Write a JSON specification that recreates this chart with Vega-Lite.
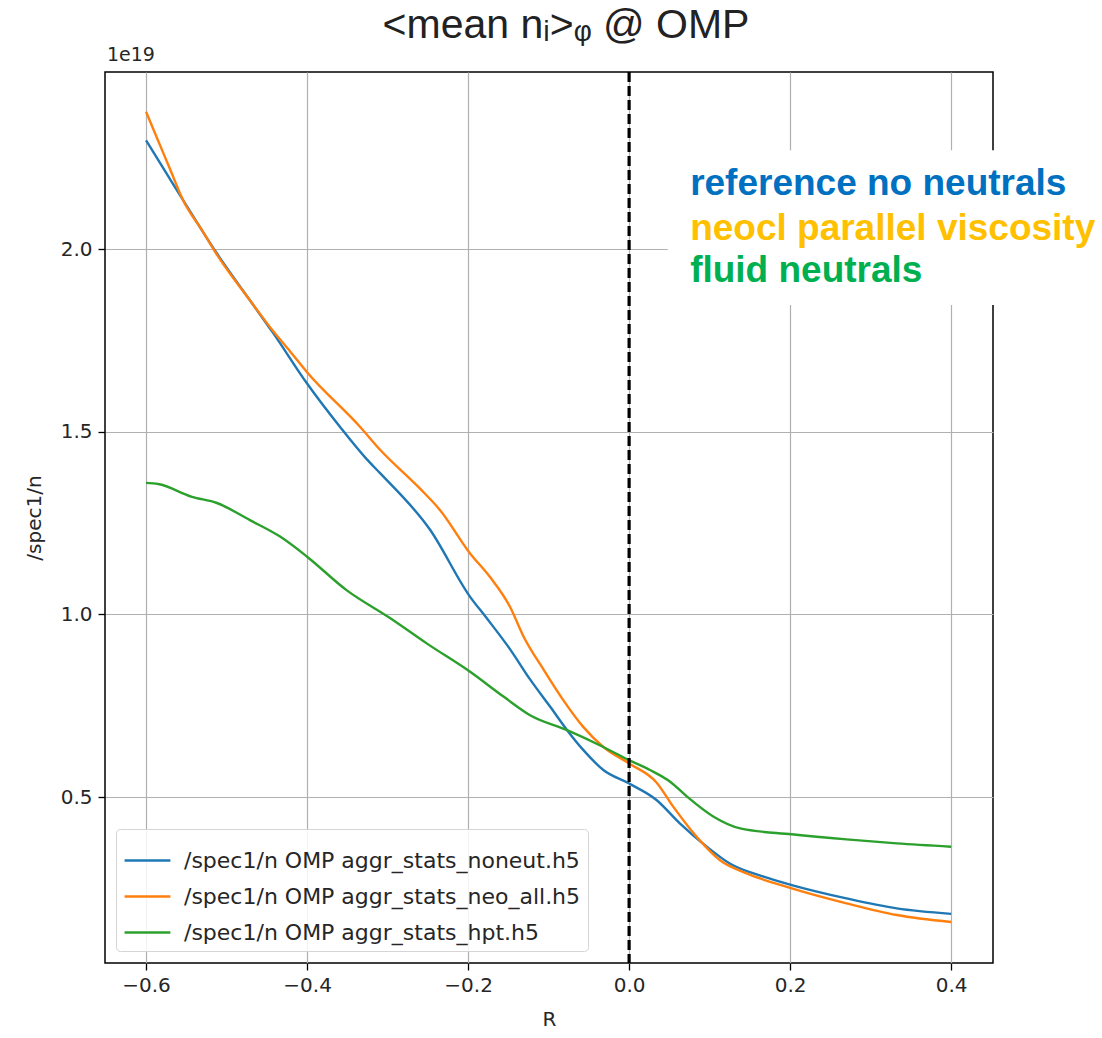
{
  "$schema": "https://vega.github.io/schema/vega-lite/v6.json",
  "width": 888,
  "height": 891,
  "autosize": {"type": "none"},
  "padding": {"left": 105, "top": 72, "right": 109, "bottom": 75},
  "background": "white",
  "title": {
    "text": "<mean nᵢ>ᵩ @ OMP",
    "font": "Liberation Sans",
    "fontSize": 41,
    "fontWeight": "normal",
    "color": "#222222",
    "anchor": "middle",
    "baseline": "alphabetic",
    "dx": 17,
    "dy": 37
  },
  "config": {
    "view": {"stroke": "black", "strokeWidth": 1.5},
    "axis": {
      "labelFont": "DejaVu Sans",
      "labelFontSize": 20,
      "labelColor": "#262626",
      "titleFont": "DejaVu Sans",
      "titleFontSize": 20,
      "titleFontWeight": "normal",
      "titleColor": "#262626",
      "gridColor": "#b0b0b0",
      "gridWidth": 1.2,
      "tickColor": "black",
      "tickSize": 7,
      "tickWidth": 1.3,
      "domain": false
    }
  },
  "datasets": {
    "curves": [
      {"series": "noneut", "R": -0.6, "n": 2.298},
      {"series": "noneut", "R": -0.575, "n": 2.209},
      {"series": "noneut", "R": -0.554, "n": 2.134},
      {"series": "noneut", "R": -0.512, "n": 1.988},
      {"series": "noneut", "R": -0.471, "n": 1.86},
      {"series": "noneut", "R": -0.442, "n": 1.77},
      {"series": "noneut", "R": -0.4, "n": 1.632},
      {"series": "noneut", "R": -0.359, "n": 1.513},
      {"series": "noneut", "R": -0.326, "n": 1.425},
      {"series": "noneut", "R": -0.309, "n": 1.386},
      {"series": "noneut", "R": -0.247, "n": 1.231},
      {"series": "noneut", "R": -0.1975, "n": 1.048},
      {"series": "noneut", "R": -0.177, "n": 0.99},
      {"series": "noneut", "R": -0.148, "n": 0.905},
      {"series": "noneut", "R": -0.123, "n": 0.822},
      {"series": "noneut", "R": -0.098, "n": 0.747},
      {"series": "noneut", "R": -0.077, "n": 0.683},
      {"series": "noneut", "R": -0.057, "n": 0.629},
      {"series": "noneut", "R": -0.032, "n": 0.574},
      {"series": "noneut", "R": 0.0, "n": 0.537},
      {"series": "noneut", "R": 0.034, "n": 0.492},
      {"series": "noneut", "R": 0.063, "n": 0.428},
      {"series": "noneut", "R": 0.0965, "n": 0.364},
      {"series": "noneut", "R": 0.125, "n": 0.318},
      {"series": "noneut", "R": 0.167, "n": 0.282},
      {"series": "noneut", "R": 0.202, "n": 0.259},
      {"series": "noneut", "R": 0.27, "n": 0.2225},
      {"series": "noneut", "R": 0.3325, "n": 0.195},
      {"series": "noneut", "R": 0.4, "n": 0.18},
      {"series": "neo_all", "R": -0.6, "n": 2.376},
      {"series": "neo_all", "R": -0.585, "n": 2.297},
      {"series": "neo_all", "R": -0.57, "n": 2.218},
      {"series": "neo_all", "R": -0.554, "n": 2.134},
      {"series": "neo_all", "R": -0.53, "n": 2.05},
      {"series": "neo_all", "R": -0.512, "n": 1.985},
      {"series": "neo_all", "R": -0.471, "n": 1.86},
      {"series": "neo_all", "R": -0.442, "n": 1.775},
      {"series": "neo_all", "R": -0.421, "n": 1.72},
      {"series": "neo_all", "R": -0.4, "n": 1.663},
      {"series": "neo_all", "R": -0.334, "n": 1.513},
      {"series": "neo_all", "R": -0.309, "n": 1.45},
      {"series": "neo_all", "R": -0.26, "n": 1.345},
      {"series": "neo_all", "R": -0.235, "n": 1.286},
      {"series": "neo_all", "R": -0.1975, "n": 1.167},
      {"series": "neo_all", "R": -0.173, "n": 1.103},
      {"series": "neo_all", "R": -0.148, "n": 1.021},
      {"series": "neo_all", "R": -0.131, "n": 0.939},
      {"series": "neo_all", "R": -0.106, "n": 0.848},
      {"series": "neo_all", "R": -0.082, "n": 0.766},
      {"series": "neo_all", "R": -0.057, "n": 0.692},
      {"series": "neo_all", "R": -0.032, "n": 0.637},
      {"series": "neo_all", "R": 0.0, "n": 0.592},
      {"series": "neo_all", "R": 0.034, "n": 0.54},
      {"series": "neo_all", "R": 0.055, "n": 0.473},
      {"series": "neo_all", "R": 0.084, "n": 0.391},
      {"series": "neo_all", "R": 0.113, "n": 0.327},
      {"series": "neo_all", "R": 0.146, "n": 0.291},
      {"series": "neo_all", "R": 0.202, "n": 0.25},
      {"series": "neo_all", "R": 0.27, "n": 0.209},
      {"series": "neo_all", "R": 0.3325, "n": 0.177},
      {"series": "neo_all", "R": 0.4, "n": 0.158},
      {"series": "hpt", "R": -0.6, "n": 1.36},
      {"series": "hpt", "R": -0.585, "n": 1.357},
      {"series": "hpt", "R": -0.543, "n": 1.322},
      {"series": "hpt", "R": -0.512, "n": 1.305},
      {"series": "hpt", "R": -0.471, "n": 1.258},
      {"series": "hpt", "R": -0.4335, "n": 1.213},
      {"series": "hpt", "R": -0.4, "n": 1.158},
      {"series": "hpt", "R": -0.351, "n": 1.0665},
      {"series": "hpt", "R": -0.297, "n": 0.99},
      {"series": "hpt", "R": -0.251, "n": 0.92},
      {"series": "hpt", "R": -0.1975, "n": 0.843},
      {"series": "hpt", "R": -0.156, "n": 0.775},
      {"series": "hpt", "R": -0.123, "n": 0.724},
      {"series": "hpt", "R": -0.077, "n": 0.683},
      {"series": "hpt", "R": -0.032, "n": 0.637},
      {"series": "hpt", "R": 0.0, "n": 0.601},
      {"series": "hpt", "R": 0.026, "n": 0.574},
      {"series": "hpt", "R": 0.051, "n": 0.542},
      {"series": "hpt", "R": 0.072, "n": 0.501},
      {"series": "hpt", "R": 0.105, "n": 0.446},
      {"series": "hpt", "R": 0.138, "n": 0.414},
      {"series": "hpt", "R": 0.202, "n": 0.398},
      {"series": "hpt", "R": 0.27, "n": 0.384},
      {"series": "hpt", "R": 0.3325, "n": 0.373},
      {"series": "hpt", "R": 0.4, "n": 0.364}
    ],
    "notes": [
      {"key": "a", "label": "reference no neutrals", "R": 0.0758, "n": 2.148},
      {"key": "b", "label": "neocl parallel viscosity", "R": 0.0758, "n": 2.0246},
      {"key": "c", "label": "fluid neutrals", "R": 0.0758, "n": 1.9097}
    ],
    "box": [{"R1": 0.048, "R2": 0.7, "n1": 1.847, "n2": 2.271}],
    "exp": [{"R": -0.651, "n": 2.485, "label": "1e19"}],
    "sep": [{"R": 0.0}]
  },
  "layer": [
    {
      "data": {"name": "curves"},
      "mark": {"type": "line", "strokeWidth": 2.4, "interpolate": "monotone"},
      "encoding": {
        "x": {
          "field": "R", "type": "quantitative",
          "scale": {"domain": [-0.651, 0.452], "nice": false, "zero": false},
          "axis": {"values": [-0.6, -0.4, -0.2, 0.0, 0.2, 0.4], "format": ".1f", "title": "R", "titlePadding": 14, "labelPadding": 5}
        },
        "y": {
          "field": "n", "type": "quantitative",
          "scale": {"domain": [0.0456, 2.485], "nice": false, "zero": false},
          "axis": {"values": [0.5, 1.0, 1.5, 2.0], "format": ".1f", "title": "/spec1/n", "titlePadding": 16, "labelPadding": 6}
        },
        "color": {
          "field": "series", "type": "nominal",
          "scale": {"domain": ["noneut", "neo_all", "hpt"], "range": ["#1f77b4", "#ff7f0e", "#2ca02c"]},
          "legend": {
            "title": null,
            "orient": "none",
            "legendX": 11,
            "legendY": 757,
            "symbolType": "stroke",
            "symbolSize": 2100,
            "symbolStrokeWidth": 2.5,
            "labelFont": "DejaVu Sans",
            "labelFontSize": 22,
            "labelColor": "#262626",
            "labelOffset": 12,
            "labelLimit": 0,
            "padding": 7,
            "rowPadding": 0,
            "fillColor": "rgba(255,255,255,0.85)",
            "strokeColor": "#d5d5d5",
            "cornerRadius": 4,
            "labelExpr": "'/spec1/n OMP aggr_stats_' + datum.label + '.h5'"
          }
        }
      }
    },
    {
      "data": {"name": "box"},
      "mark": {"type": "rect", "fill": "white", "stroke": null},
      "encoding": {
        "x": {"field": "R1", "type": "quantitative"},
        "x2": {"field": "R2"},
        "y": {"field": "n1", "type": "quantitative"},
        "y2": {"field": "n2"}
      }
    },
    {
      "data": {"name": "notes"},
      "mark": {"type": "text", "font": "Liberation Sans", "fontSize": 37, "fontWeight": "bold", "align": "left", "baseline": "alphabetic"},
      "encoding": {
        "x": {"field": "R", "type": "quantitative"},
        "y": {"field": "n", "type": "quantitative"},
        "text": {"field": "label"},
        "color": {
          "field": "key", "type": "nominal",
          "scale": {"domain": ["a", "b", "c"], "range": ["#0070C0", "#FFC000", "#00B050"]},
          "legend": null
        }
      }
    },
    {
      "data": {"name": "exp"},
      "mark": {"type": "text", "font": "DejaVu Sans", "fontSize": 19, "align": "left", "baseline": "bottom", "dx": 2, "dy": -7, "color": "#262626"},
      "encoding": {
        "x": {"field": "R", "type": "quantitative"},
        "y": {"field": "n", "type": "quantitative"},
        "text": {"field": "label"}
      }
    },
    {
      "data": {"name": "sep"},
      "mark": {"type": "rule", "color": "black", "strokeWidth": 3.2, "strokeDash": [10, 4]},
      "encoding": {"x": {"field": "R", "type": "quantitative"}}
    }
  ],
  "resolve": {"scale": {"color": "independent"}}
}
